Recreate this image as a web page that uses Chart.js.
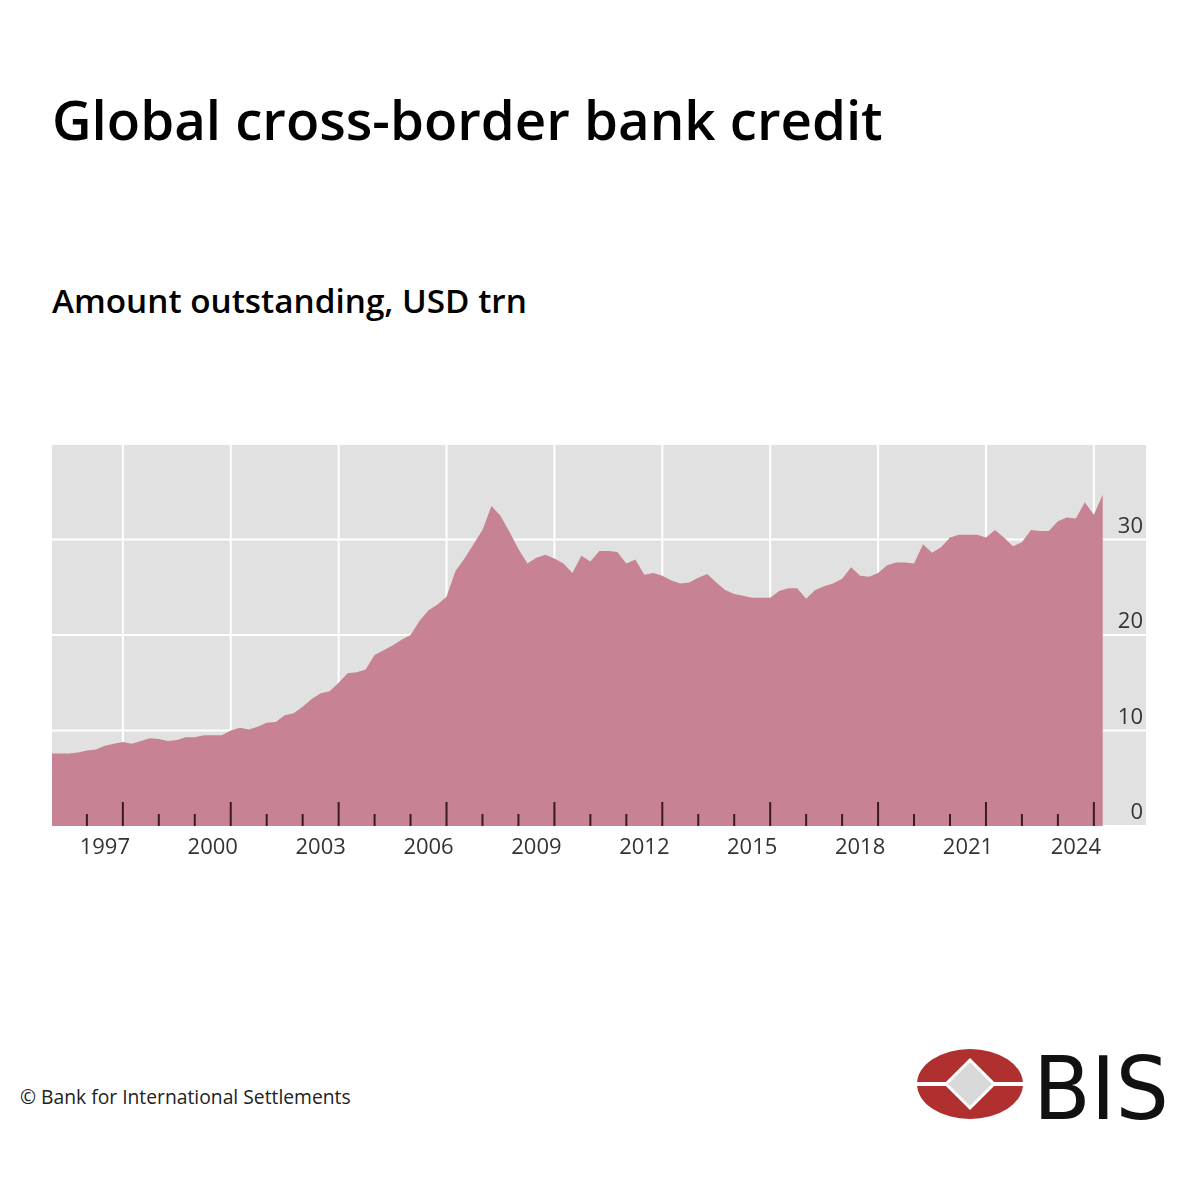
<!DOCTYPE html>
<html><head><meta charset="utf-8">
<script src="https://cdn.jsdelivr.net/npm/chart.js@4"></script>
<style>
body{margin:0;width:1200px;height:1200px;background:#fff;font-family:"Open Sans",sans-serif;position:relative;overflow:hidden}
#t{position:absolute;left:52px;top:82px;font-size:54.6px;font-weight:600;color:#000;margin:0}
#s{position:absolute;left:52px;top:277px;font-size:33.3px;font-weight:600;color:#000}
#f{position:absolute;left:20px;top:1083px;font-size:19.3px;color:#222}
#c{position:absolute;left:52px;top:444px}
#logo{position:absolute;left:915px;top:1046px}
</style></head><body>
<div id="t">Global cross-border bank credit</div>
<div id="s">Amount outstanding, USD trn</div>
<div id="f">© Bank for International Settlements</div>
<canvas id="c" width="1094" height="430" style="width:1094px;height:430px"></canvas>
<svg id="logo" width="270" height="80" viewBox="0 0 270 80">
<ellipse cx="55" cy="38" rx="53" ry="35" fill="#b0302f"/>
<rect x="0" y="36" width="110" height="4" fill="#fff"/>
<polygon points="55,14 79,38 55,62 31,38" fill="#d9d9d9" stroke="#fff" stroke-width="3"/>
<text x="118" y="73" font-family="DejaVu Sans Condensed, Liberation Sans Narrow, sans-serif" font-size="88" fill="#111" textLength="136" lengthAdjust="spacingAndGlyphs">BIS</text>
</svg>
<script>
const startYear = 1996;
const values = [
7.6,7.6,7.6,7.7, 7.9,8.0,8.4,8.6, 8.8,8.6,8.9,9.2, 9.1,8.9,9.0,9.3,
9.3,9.5,9.5,9.5, 10.0,10.3,10.1,10.4, 10.8,10.9,11.6,11.8, 12.5,13.3,13.9,14.1,
15.0,16.0,16.1,16.4, 17.9,18.4,18.9,19.5, 20.0,21.5,22.6,23.2, 24.0,26.7,28.0,29.5,
31.0,33.5,32.5,30.8, 29.0,27.5,28.1,28.4, 28.0,27.5,26.5,28.3, 27.7,28.8,28.8,28.7,
27.5,27.9,26.3,26.5, 26.2,25.7,25.4,25.5, 26.0,26.4,25.5,24.7, 24.3,24.1,23.9,23.9,
23.9,24.6,24.9,24.9,23.8, 24.7,25.1,25.4,25.9, 27.1,26.2,26.1,26.5, 27.3,27.6,27.6,27.5,
29.5,28.6,29.2,30.2, 30.5,30.5,30.5,30.2, 31.0,30.2,29.3,29.7, 31.0,30.9,30.9,31.9,
32.3,32.2,33.9,32.6, 34.7];
const xLabels = ["1997","2000","2003","2006","2009","2012","2015","2018","2021","2024"];
const yTicks = [0,10,20,30];
const points = values.map((v,i)=>({x:startYear+i/4,y:v}));
const deco = {
  id:'deco',
  beforeDatasetsDraw(ch){
    const {ctx,chartArea:a,scales:{x,y}}=ch;
    ctx.save();
    ctx.fillStyle='#e1e1e1';ctx.fillRect(a.left,a.top,a.right-a.left,a.bottom-a.top);
    ctx.strokeStyle='#fff';ctx.lineWidth=2;
    yTicks.concat([40]).forEach(v=>{const py=y.getPixelForValue(v);ctx.beginPath();ctx.moveTo(a.left,py);ctx.lineTo(a.right,py);ctx.stroke();});
    xLabels.forEach(l=>{const px=x.getPixelForValue(+l+1);ctx.beginPath();ctx.moveTo(px,a.top);ctx.lineTo(px,a.bottom);ctx.stroke();});
    ctx.restore();
  },
  afterDatasetsDraw(ch){
    const {ctx,chartArea:a,scales:{x,y}}=ch;
    ctx.save();
    ctx.strokeStyle='#3a1a22';ctx.lineWidth=2;
    for(let yr=1996;yr<=2025;yr++){
      const px=x.getPixelForValue(yr);
      const major=(yr-1998)%3===0;
      ctx.beginPath();ctx.moveTo(px,a.bottom);ctx.lineTo(px,a.bottom-(major?24:12));ctx.stroke();
    }
    ctx.fillStyle='#333';ctx.font='22px "Open Sans"';ctx.textAlign='center';ctx.textBaseline='top';
    xLabels.forEach(l=>ctx.fillText(l,x.getPixelForValue(+l+0.5),a.bottom+11));
    ctx.textAlign='right';ctx.textBaseline='bottom';
    yTicks.forEach(v=>ctx.fillText(String(v),a.right-3,y.getPixelForValue(v)-2));
    ctx.restore();
  }
};
new Chart(document.getElementById('c'),{
  type:'line',
  data:{datasets:[{data:points,fill:'origin',backgroundColor:'#c78393',borderWidth:0,pointRadius:0,tension:0}]},
  options:{
    responsive:false,animation:false,
    layout:{padding:{left:0,right:0,top:0,bottom:48}},
    plugins:{legend:{display:false},tooltip:{enabled:false}},
    scales:{
      x:{type:'linear',min:1996.03,max:2026.45,display:false},
      y:{min:0,max:40,display:false}
    }
  },
  plugins:[deco]
});
</script>
</body></html>
